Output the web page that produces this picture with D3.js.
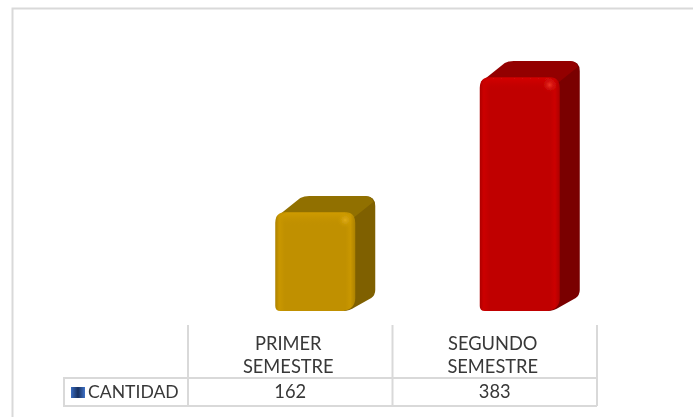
<!DOCTYPE html>
<html><head><meta charset="utf-8">
<script src="https://cdn.jsdelivr.net/npm/d3@7/dist/d3.min.js"></script>
<style>html,body{margin:0;padding:0;background:#fff}svg{display:block}text{font-family:Lato,"Open Sans",sans-serif;fill:#383838}</style>
</head><body><svg id="c" width="693" height="417"></svg>
<script>
const categories=[["PRIMER","SEMESTRE"],["SEGUNDO","SEMESTRE"]];
const categoryKeys=["PRIMER SEMESTRE","SEGUNDO SEMESTRE"];
const seriesName="CANTIDAD";
const values=[162,383];
const fronts=["#c09000","#c00000"];
const tops=["#917000","#930000"];
const sides=["#7f6000","#7a0000"];
const lights=["#c99700","#cc0404"];
const shades=["#ad8200","#ae0000"];

const W=693,H=417;
const svg=d3.select("#c");
const defs=svg.append("defs");
const x=d3.scaleBand().domain(categoryKeys).range([188,597]);
const y=d3.scaleLinear().domain([0,383]).range([311,77]);
const barW=80,dx=20,dy=-16,r=11,rb=5;
const barLeft=k=>x(k)+(x.bandwidth()-barW)/2+25;

svg.append("path").attr("d",`M12.5,${H}V8.5H${W}`).attr("fill","none").attr("stroke","#d9d9d9").attr("stroke-width",2);

defs.append("filter").attr("id","soft").append("feGaussianBlur").attr("stdDeviation",0.7);
defs.append("filter").attr("id","softText").append("feGaussianBlur").attr("stdDeviation",0.3);
categoryKeys.forEach((k,i)=>{
  const h=defs.append("linearGradient").attr("id","h"+i);
  [[0,shades[i]],[.05,lights[i]],[.12,fronts[i]],[.88,fronts[i]],[.94,lights[i]],[1,shades[i]]].forEach(s=>h.append("stop").attr("offset",s[0]).attr("stop-color",s[1]));
  const v=defs.append("linearGradient").attr("id","v"+i).attr("x1",0).attr("x2",0).attr("y1",0).attr("y2",1);
  v.append("stop").attr("offset",0).attr("stop-color",i?"#d80808":"#d09c00").attr("stop-opacity",.85);
  v.append("stop").attr("offset",1).attr("stop-color",fronts[i]).attr("stop-opacity",0);
  const g=defs.append("radialGradient").attr("id","g"+i);
  g.append("stop").attr("offset",0).attr("stop-color",i?"#ee3626":"#e0ac18");
  g.append("stop").attr("offset",1).attr("stop-color",lights[i]).attr("stop-opacity",0);
});

const bars=svg.selectAll("g.bar").data(categoryKeys).join("g").attr("class","bar").attr("filter","url(#soft)");
bars.each(function(k,i){
  const g=d3.select(this);
  const x0=barLeft(k),x1=x0+barW,y0=y(values[i]),y1=y(0);
  g.append("path").attr("d",`M${x1-12},${y1}Q${x1-6},${y1} ${x1},${y1-4}L${x1+dx-4},${y1+dy+3}Q${x1+dx},${y1+dy} ${x1+dx},${y1+dy-5}V${y0+dy+10}Q${x1+dx},${y0+dy} ${x1+dx-10},${y0+dy}H${x1-12}Z`).attr("fill",sides[i]);
  g.append("path").attr("d",`M${x0+1},${y0+6}Q${x0+2},${y0+3} ${x0+5},${y0+2}L${x0+dx+5},${y0+dy+2}Q${x0+dx+9},${y0+dy} ${x0+dx+14},${y0+dy}H${x1+dx-10}Q${x1+dx-3},${y0+dy} ${x1+dx-2},${y0+dy+6}L${x1-2},${y0+6}Z`).attr("fill",tops[i]);
  g.append("path").attr("d",`M${x0},${y0+r}Q${x0},${y0} ${x0+r},${y0}H${x1-r}Q${x1},${y0} ${x1},${y0+r}V${y1-rb-8}Q${x1},${y1-2} ${x1-12},${y1}H${x0+rb}Q${x0},${y1} ${x0},${y1-rb}Z`).attr("fill",`url(#h${i})`);
  g.append("rect").attr("x",x0+5).attr("y",y0+1).attr("width",barW-10).attr("height",13).attr("rx",6).attr("fill",`url(#v${i})`);
  g.append("circle").attr("cx",x1-10).attr("cy",y0+8).attr("r",8).attr("fill",`url(#g${i})`);
});

const grid=svg.append("g").attr("stroke","#d9d9d9").attr("stroke-width",2).attr("fill","none");
const edges=[...x.domain().map(k=>x(k)),x.range()[1]];
edges.forEach(e=>grid.append("line").attr("x1",e).attr("x2",e).attr("y1",325).attr("y2",406));
grid.append("path").attr("d","M188,378H64V406H597M188,378H597");

const labels=svg.append("g").attr("text-anchor","middle").attr("font-size",18.3).attr("filter","url(#softText)");
categoryKeys.forEach((k,i)=>{
  const cx=x(k)+x.bandwidth()/2;
  categories[i].forEach((t,j)=>labels.append("text").attr("x",cx-2).attr("y",350+j*23).text(t));
  labels.append("text").attr("x",cx).attr("y",398).text(values[i]);
});
svg.append("text").attr("x",88).attr("y",398).attr("font-size",17.6).attr("filter","url(#softText)").text(seriesName);

const lg=defs.append("linearGradient").attr("id","key");
[[0,"#3a6cc0"],[.5,"#17305f"],[1,"#3f72c8"]].forEach(s=>lg.append("stop").attr("offset",s[0]).attr("stop-color",s[1]));
svg.append("rect").attr("x",71).attr("y",387).attr("width",14).attr("height",11).attr("fill","url(#key)");
</script></body></html>
